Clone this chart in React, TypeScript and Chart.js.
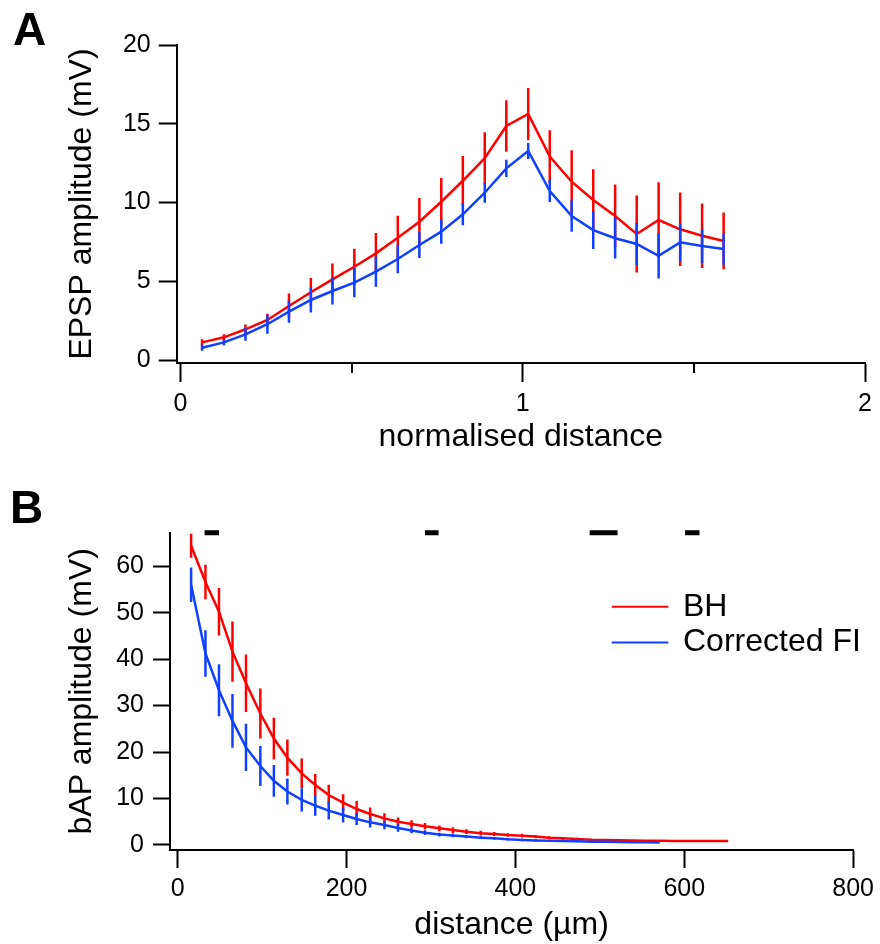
import React, { useEffect, useRef } from 'react';
import { Chart, registerables } from 'chart.js';

Chart.register(...registerables);

const FONT = "'Liberation Sans', Arial, Helvetica, sans-serif";
const RED = '#ff0000';
const BLUE = '#1040ff';
const BLACK = '#000000';

// ---------- Panel A : EPSP amplitude vs normalised distance ----------
const normDistance = [0.063, 0.127, 0.19, 0.254, 0.317, 0.381, 0.444, 0.508, 0.571, 0.635, 0.698, 0.762, 0.825, 0.889, 0.952, 1.016, 1.079, 1.143, 1.206, 1.27, 1.333, 1.397, 1.46, 1.524, 1.587];
const epspBH = [1.12, 1.44, 1.95, 2.54, 3.43, 4.3, 5.12, 5.92, 6.77, 7.76, 8.78, 10.05, 11.38, 12.81, 14.86, 15.62, 12.91, 11.32, 10.16, 9.14, 8.0, 8.89, 8.3, 7.89, 7.56];
const epspBHErr = [0.2, 0.2, 0.3, 0.4, 0.8, 0.9, 1.0, 1.15, 1.3, 1.4, 1.5, 1.5, 1.57, 1.65, 1.63, 1.65, 1.67, 2.0, 1.95, 2.0, 2.45, 2.4, 2.33, 2.05, 1.8];
const epspFI = [0.78, 1.12, 1.63, 2.27, 3.07, 3.81, 4.38, 4.91, 5.61, 6.41, 7.3, 8.15, 9.25, 10.62, 12.17, 13.27, 10.73, 9.14, 8.25, 7.73, 7.37, 6.62, 7.47, 7.24, 7.05];
const epspFIErr = [0.2, 0.2, 0.4, 0.6, 0.7, 0.8, 0.85, 0.93, 0.96, 0.9, 0.82, 0.77, 0.7, 0.64, 0.55, 0.5, 0.7, 1.0, 1.2, 1.28, 1.33, 1.45, 1.22, 1.08, 1.0];
const xTicksA = [0, 1, 2];
const xMinorTicksA = [0.5, 1.5];
const yTicksA = [0, 5, 10, 15, 20];

// ---------- Panel B : bAP amplitude vs distance ----------
const distanceUm = [16, 33, 49, 65, 81, 98, 114, 130, 147, 163, 179, 196, 212, 228, 245, 261, 277, 293, 310, 326, 342, 359, 375, 391, 408, 424, 440, 456, 473, 489, 505, 522, 538, 554, 571, 587, 603, 619, 636, 652];
const bapBH = [64.4, 56.6, 50.2, 41.6, 34.8, 28.3, 22.9, 18.8, 15.4, 12.9, 10.75, 9.1, 7.74, 6.67, 5.73, 5.0, 4.5, 4.05, 3.58, 3.2, 2.87, 2.55, 2.37, 2.15, 2.0, 1.8, 1.58, 1.43, 1.29, 1.14, 1.07, 1.0, 0.95, 0.92, 0.9, 0.88, 0.86, 0.85, 0.84, 0.84];
const bapBHErr = [2.6, 3.7, 5.1, 6.5, 6.2, 5.4, 4.5, 3.9, 3.2, 2.4, 2.2, 1.8, 1.7, 1.4, 1.1, 0.9, 0.8, 0.7, 0.6, 0.6, 0.5, 0.5, 0.45, 0.4, 0.4, 0.35, 0.3, 0.3, 0.25, 0.25, 0.2, 0, 0, 0, 0, 0, 0, 0, 0, 0];
const bapFI = [56.0, 41.2, 33.3, 26.7, 21.0, 17.0, 13.8, 11.5, 9.7, 8.46, 7.38, 6.45, 5.6, 4.87, 4.3, 3.65, 3.1, 2.65, 2.25, 2.05, 1.8, 1.58, 1.43, 1.22, 1.07, 0.98, 0.9, 0.84, 0.78, 0.72, 0.67, 0.63, 0.6, 0.58, 0.56];
const bapFIErr = [3.7, 5.0, 5.6, 5.8, 5.1, 4.3, 3.4, 2.8, 2.5, 2.15, 1.9, 1.6, 1.3, 1.1, 0.9, 0.8, 0.6, 0.5, 0.4, 0.4, 0.35, 0.3, 0.3, 0.25, 0.25, 0.25, 0.2, 0.2, 0.2, 0.15, 0.15, 0, 0, 0, 0];
const sigStart = [32, 293, 488, 601];
const sigEnd = [49, 309, 521, 618];
const sigLevel = 67.2;
const xTicksB = [0, 200, 400, 600, 800];
const yTicksB = [0, 10, 20, 30, 40, 50, 60];
const legendLabels = ['BH', 'Corrected FI'];

function seriesPoints(xs: number[], ys: number[]) {
  return ys.map((y, i) => ({ x: xs[i], y }));
}

function errorBarPoints(xs: number[], ys: number[], es: number[]) {
  const pts: { x: number; y: number | null }[] = [];
  ys.forEach((y, i) => {
    const e = es[i];
    if (!(e > 0)) return;
    pts.push({ x: xs[i], y: y - e });
    pts.push({ x: xs[i], y: y + e });
    pts.push({ x: xs[i], y: null });
  });
  return pts;
}

function sigBarPoints() {
  const pts: { x: number; y: number | null }[] = [];
  sigStart.forEach((s, i) => {
    pts.push({ x: s, y: sigLevel });
    pts.push({ x: sigEnd[i], y: sigLevel });
    pts.push({ x: sigEnd[i], y: null });
  });
  return pts;
}

const lineDs = (label: string, data: any[], color: string, order: number, extra: any = {}) => ({
  label,
  data,
  borderColor: color,
  backgroundColor: color,
  borderWidth: 2.5,
  pointRadius: 0,
  pointHoverRadius: 0,
  spanGaps: false,
  borderCapStyle: 'butt',
  tension: 0,
  order,
  ...extra,
});

function axisCommon(tickLen: number, pad: number, ticks: number[]) {
  return {
    type: 'linear',
    afterBuildTicks: (s: any) => {
      s.ticks = ticks.map((v) => ({ value: v }));
    },
    grid: { display: true, drawOnChartArea: false, drawTicks: true, tickLength: tickLen, tickWidth: 2, tickColor: BLACK },
    border: { display: true, color: BLACK, width: 2 },
    ticks: {
      color: BLACK,
      font: { size: 25, family: FONT },
      padding: pad,
      maxRotation: 0,
      autoSkip: false,
      callback: (v: any) => String(v),
    },
  };
}

const minorTicksPlugin = {
  id: 'minorTicksA',
  afterDraw(chart: any) {
    const s = chart.scales.x;
    const ctx = chart.ctx;
    ctx.save();
    ctx.strokeStyle = BLACK;
    ctx.lineWidth = 2;
    xMinorTicksA.forEach((v) => {
      const px = Math.round(s.getPixelForValue(v));
      ctx.beginPath();
      ctx.moveTo(px, s.top);
      ctx.lineTo(px, s.top + 10);
      ctx.stroke();
    });
    ctx.restore();
  },
};

const inlineLegendPlugin = {
  id: 'inlineLegendB',
  afterDraw(chart: any) {
    const ctx = chart.ctx;
    const area = chart.chartArea;
    const x0 = area.left + 441.7;
    const lineLen = 56.6;
    const textX = area.left + 513;
    ctx.save();
    ctx.font = `32px ${FONT}`;
    ctx.textBaseline = 'middle';
    ctx.textAlign = 'left';
    legendLabels.forEach((label, i) => {
      const d = chart.data.datasets.find((ds: any) => ds.label === label);
      if (!d) return;
      const y = area.top + 74 + i * 35.8;
      ctx.strokeStyle = d.borderColor;
      ctx.lineWidth = 2;
      ctx.beginPath();
      ctx.moveTo(x0, y);
      ctx.lineTo(x0 + lineLen, y);
      ctx.stroke();
      ctx.fillStyle = BLACK;
      ctx.fillText(label, textX, y);
    });
    ctx.restore();
  },
};

function configA(): any {
  return {
    type: 'line',
    data: {
      datasets: [
        lineDs('Corrected FI', seriesPoints(normDistance, epspFI), BLUE, 1),
        lineDs('Corrected FI SEM', errorBarPoints(normDistance, epspFI, epspFIErr), BLUE, 2),
        lineDs('BH', seriesPoints(normDistance, epspBH), RED, 3),
        lineDs('BH SEM', errorBarPoints(normDistance, epspBH, epspBHErr), RED, 4),
      ],
    },
    options: {
      animation: false,
      responsive: false,
      devicePixelRatio: 1,
      events: [],
      layout: { padding: { left: 0, right: 15, top: 45, bottom: 13.8 } },
      plugins: { legend: { display: false }, tooltip: { enabled: false } },
      scales: {
        x: {
          ...axisCommon(19, 7, xTicksA),
          min: -0.011,
          max: 2,
          afterFit: (s: any) => {
            s.height = 93.2;
          },
          title: { display: true, text: 'normalised distance', color: BLACK, font: { size: 32, family: FONT }, padding: { top: 0, bottom: 0 } },
        },
        y: {
          ...axisCommon(18, 8, yTicksA),
          min: -0.19,
          max: 20,
          afterFit: (s: any) => {
            s.width = 176.7;
          },
          title: { display: true, text: 'EPSP amplitude (mV)', color: BLACK, font: { size: 32, family: FONT }, padding: { top: 63, bottom: 0 } },
        },
      },
    },
    plugins: [minorTicksPlugin],
  };
}

function configB(): any {
  return {
    type: 'line',
    data: {
      datasets: [
        lineDs('significance', sigBarPoints(), BLACK, 0, { borderWidth: 5, clip: false }),
        lineDs('Corrected FI', seriesPoints(distanceUm, bapFI), BLUE, 1),
        lineDs('Corrected FI SEM', errorBarPoints(distanceUm, bapFI, bapFIErr), BLUE, 2),
        lineDs('BH', seriesPoints(distanceUm, bapBH), RED, 3),
        lineDs('BH SEM', errorBarPoints(distanceUm, bapBH, bapBHErr), RED, 4),
      ],
    },
    options: {
      animation: false,
      responsive: false,
      devicePixelRatio: 1,
      events: [],
      layout: { padding: { left: 0, right: 21, top: 62.7, bottom: 0 } },
      plugins: { legend: { display: false }, tooltip: { enabled: false } },
      scales: {
        x: {
          ...axisCommon(18, 6, xTicksB),
          min: -9,
          max: 800,
          afterFit: (s: any) => {
            s.height = 94;
          },
          title: { display: true, text: 'distance (µm)', color: BLACK, font: { size: 32, family: FONT }, padding: { top: 0, bottom: 0 } },
        },
        y: {
          ...axisCommon(17, 9, yTicksB),
          min: -1.08,
          max: 67.2,
          afterFit: (s: any) => {
            s.width = 170;
          },
          title: { display: true, text: 'bAP amplitude (mV)', color: BLACK, font: { size: 32, family: FONT }, padding: { top: 63, bottom: 0 } },
        },
      },
    },
    plugins: [inlineLegendPlugin],
  };
}

const panelLabelStyle: React.CSSProperties = {
  position: 'absolute',
  fontFamily: FONT,
  fontWeight: 'bold',
  fontSize: '46px',
  lineHeight: '46px',
  color: BLACK,
  margin: 0,
};

export default function App() {
  const refA = useRef<HTMLCanvasElement>(null);
  const refB = useRef<HTMLCanvasElement>(null);

  useEffect(() => {
    const a = new Chart(refA.current as HTMLCanvasElement, configA());
    const b = new Chart(refB.current as HTMLCanvasElement, configB());
    return () => {
      a.destroy();
      b.destroy();
    };
  }, []);

  return (
    <div style={{ position: 'absolute', left: 0, top: 0, width: 880, height: 944, background: '#ffffff', overflow: 'hidden' }}>
      <canvas ref={refA} width={880} height={470} style={{ position: 'absolute', left: 0, top: 0, width: 880, height: 470 }} />
      <canvas ref={refB} width={880} height={474} style={{ position: 'absolute', left: 0, top: 470, width: 880, height: 474 }} />
      <div style={{ ...panelLabelStyle, left: 13, top: 5.7 }}>A</div>
      <div style={{ ...panelLabelStyle, left: 10, top: 484 }}>B</div>
    </div>
  );
}
